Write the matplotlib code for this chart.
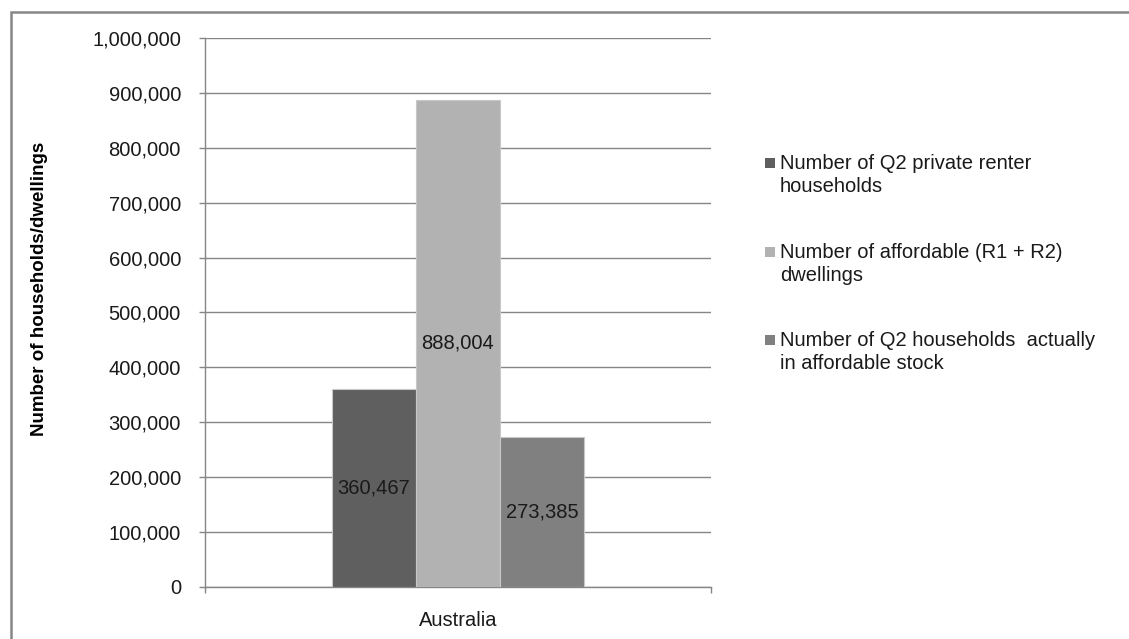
import matplotlib
matplotlib.use("Agg")
import matplotlib.pyplot as plt
from matplotlib.patches import Rectangle
from matplotlib.ticker import FuncFormatter

categories = ["Australia"]
series_names = [
    "Number of Q2 private renter\nhouseholds",
    "Number of affordable (R1 + R2)\ndwellings",
    "Number of Q2 households  actually\nin affordable stock",
]
series_values = [360467, 888004, 273385]
series_colors = ["#5f5f5f", "#b2b2b2", "#808080"]
y_ticks = [0, 100000, 200000, 300000, 400000, 500000, 600000, 700000, 800000, 900000, 1000000]

plt.rcParams['font.family'] = ['Liberation Sans', 'DejaVu Sans']
W, H = 1129, 639
FS = 14.5
TXT = "#1a1a1a"
fig = plt.figure(figsize=(W / 100, H / 100), dpi=100)
ax = fig.add_axes([205 / W, 1 - 586.5 / H, (711 - 205) / W, (586.5 - 38.3) / H])

gray = "#868686"
bw = 84 / 506
offsets = [-bw, 0, bw]
for name, val, col, off in zip(series_names, series_values, series_colors, offsets):
    ax.bar(0 + off, val, width=bw, color=col, edgecolor="#c8c8c8", linewidth=0.8, zorder=3)
    ax.text(0 + off, val / 2, f"{val:,}", ha="center", va="center", fontsize=FS, color=TXT, zorder=4)

ax.set_xlim(-0.5, 0.5)
ax.set_ylim(0, 1000000)
ax.set_yticks(y_ticks)
ax.yaxis.set_major_formatter(FuncFormatter(lambda v, p: f"{int(v):,}"))
ax.grid(axis="y", color=gray, linewidth=1.0, zorder=0)
for s in ["top", "right"]:
    ax.spines[s].set_visible(False)
for s in ["left", "bottom"]:
    ax.spines[s].set_color(gray)
    ax.spines[s].set_linewidth(1.0)
ax.tick_params(axis="y", direction="out", length=4.3, color=gray, width=1.0, labelsize=FS, labelcolor=TXT, pad=13)
ax.set_xticks([0])
ax.set_xticklabels(categories)
ax.tick_params(axis="x", length=0, labelsize=FS, labelcolor=TXT, pad=18)
ax.set_xticks([-0.5, 0.5], minor=True)
ax.tick_params(axis="x", which="minor", direction="out", length=4.3, color=gray, width=1.0)

fig.text(40 / W, 1 - 289 / H, "Number of households/dwellings", rotation=90, ha="center", va="center",
         fontsize=13.5, fontweight="bold", color="black")

# legend, drawn entry by entry
leg_x_box = 765
leg_x_text = 780
first_line_y = 163
entry_step = 88.5
for i, (name, col) in enumerate(zip(series_names, series_colors)):
    yc = first_line_y + i * entry_step
    fig.patches.append(Rectangle((leg_x_box / W, 1 - (yc + 5) / H), 10 / W, 10 / H,
                                 transform=fig.transFigure, facecolor=col, edgecolor=col, linewidth=0))
    fig.text(leg_x_text / W, 1 - (yc - 9) / H, name, ha="left", va="top", fontsize=FS,
             color=TXT, linespacing=1.27)

fig.patches.append(Rectangle((11 / W, -0.1), 1.2, (1 - 12 / H) + 0.1, transform=fig.transFigure,
                             fill=False, edgecolor=gray, linewidth=1.8))

fig.savefig("out.png", dpi=100)
